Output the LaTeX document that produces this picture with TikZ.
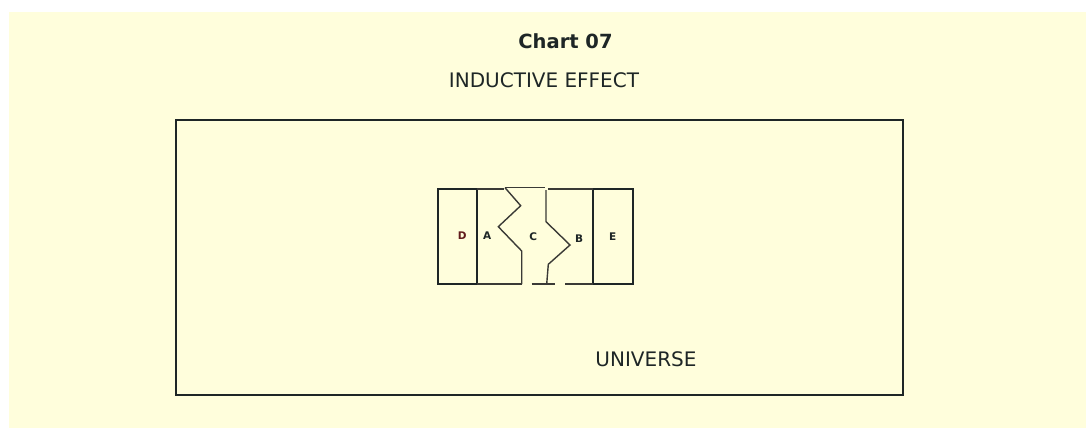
\documentclass[tikz,border=0pt]{standalone}
\usepackage{fontspec}
\setmainfont{DejaVu Sans}
\definecolor{cream}{HTML}{FFFEDC}
\definecolor{ink}{HTML}{1E2626}
\definecolor{fig}{HTML}{3A3A36}
\tikzset{
  frame/.style={draw=ink, line width=1.6pt},
  wall/.style={draw=fig, line width=1.4pt, line join=miter},
  thick wall/.style={draw=ink, line width=1.7pt},
  lbl/.style={font=\fontsize{10.5}{12}\selectfont\bfseries, text=ink, inner sep=0pt},
  ttl/.style={font=\fontsize{20}{22}\selectfont, text=ink, inner sep=0pt, anchor=base},
}
\begin{document}
\begin{tikzpicture}[x=1pt, y=-1pt]
\useasboundingbox (0,0) rectangle (1086,428);
\fill[white] (0,0) rectangle (1086,428);
\fill[cream] (9,12) rectangle (1086,428);
% titles
\node[ttl, font=\fontsize{19.5}{22}\selectfont\bfseries] (title) at (565.5,48.3) {Chart 07};
\node[ttl] (subtitle) at (544,87.3) {INDUCTIVE EFFECT};
% universe box
\draw[frame] (176,120) rectangle (903,395);
\node[ttl] (universe) at (646,366.7) {UNIVERSE};
% D box
\draw[thick wall] (438.3,189) rectangle (476.7,284);
% E box
\draw[thick wall] (592.7,189) rectangle (633.3,284);
% A top and bottom
\draw[wall] (476.7,189) -- (504,189);
\draw[wall] (476.7,284) -- (521.7,284);
% left zigzag
\draw[wall] (505,187.7) -- (520.7,205.7) -- (498.3,226.7) -- (521.7,251) -- (521.7,284);
% C top and bottom
\draw[wall] (505,187.7) -- (545,187.7);
\draw[wall] (531.7,284) -- (555,284);
% right zigzag
\draw[wall] (546,190) -- (546,221.7) -- (570,245) -- (548.3,264.3) -- (546.7,284);
% B top and bottom
\draw[wall] (548.3,189) -- (592.7,189);
\draw[wall] (565,284) -- (592.7,284);
% labels
\node[lbl, text=ink!70!red] (D) at (462.3,236) {D};
\node[lbl] (A) at (487.3,236) {A};
\node[lbl] (C) at (533.3,236.7) {C};
\node[lbl] (B) at (579,239) {B};
\node[lbl] (E) at (612.7,236.7) {E};
\end{tikzpicture}
\end{document}
